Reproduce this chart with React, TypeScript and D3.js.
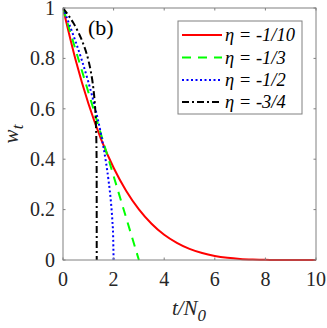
import React from "react";
import * as d3 from "d3";

// values
const tRed = [0, 0.5, 1, 1.5, 2, 2.5, 3, 3.5, 4, 4.5, 5, 5.5, 6, 6.5, 7, 7.5, 8, 9, 10];
const wRed = [1, 0.794, 0.622, 0.481, 0.366, 0.274, 0.201, 0.144, 0.1, 0.068, 0.044, 0.0275, 0.0162, 0.0089, 0.0044, 0.002, 0.0007, 0.00003, 0];

const tGreen = [0, 1, 2, 3];
const wGreen = [1, 0.667, 0.333, 0];

const tBlue = [0, 0.25, 0.5, 0.75, 1, 1.25, 1.5, 1.7, 1.8, 1.9, 1.95, 1.98, 2];
const wBlue = [1, 0.935, 0.866, 0.791, 0.707, 0.612, 0.5, 0.387, 0.316, 0.224, 0.158, 0.1, 0];

const tBlack = [0, 0.2, 0.4, 0.6, 0.8, 1.0, 1.1, 1.2, 1.25, 1.3, 1.32, 1.33, 1.333];
const wBlack = [1, 0.973, 0.942, 0.905, 0.858, 0.794, 0.748, 0.681, 0.63, 0.541, 0.464, 0.368, 0];

const xTicks = [0, 2, 4, 6, 8, 10];
const yTicks = [0, 0.2, 0.4, 0.6, 0.8, 1];
const yTickLabels = ["0", "0.2", "0.4", "0.6", "0.8", "1"];

const series = [
  { label: "-1/10", t: tRed, w: wRed, color: "#ff0000", dash: "none" },
  { label: "-1/3", t: tGreen, w: wGreen, color: "#00ff00", dash: "9,7" },
  { label: "-1/2", t: tBlue, w: wBlue, color: "#0000ff", dash: "2,2.5" },
  { label: "-3/4", t: tBlack, w: wBlack, color: "#000000", dash: "7,3,2,3" },
];

const App = () => {
  const width = 327;
  const height = 328;
  const left = 63, right = 316, top = 8, bottom = 260;

  const x = d3.scaleLinear().domain([0, 10]).range([left, right]);
  const y = d3.scaleLinear().domain([0, 1]).range([bottom, top]);

  const makePath = (t: number[], w: number[]) =>
    d3.line<[number, number]>()
      .x((d) => x(d[0]))
      .y((d) => y(d[1]))
      .curve(d3.curveMonotoneX)(t.map((v, i) => [v, w[i]])) || "";

  const axisColor = "#808080";
  const textColor = "#262626";
  const tickLen = 2.5;
  const fs = 20;

  const legX = 178, legY = 21, legW = 124, legH = 93;
  const rowY = [35, 57.5, 80, 102];

  const txt = { fontFamily: "Liberation Serif" };

  return (
    <svg width={width} height={height} style={{ position: "absolute", left: 0, top: 0, background: "#fff" }}>
      <defs>
        <clipPath id="plot">
          <rect x={left} y={top - 2} width={right - left} height={bottom - top + 3} />
        </clipPath>
      </defs>

      {/* curves */}
      <g clipPath="url(#plot)">
        {series.map((s) => (
          <path key={s.label} d={makePath(s.t, s.w)} fill="none" stroke={s.color}
            strokeWidth={2} strokeDasharray={s.dash} />
        ))}
      </g>

      {/* box */}
      <rect x={left} y={top} width={right - left} height={bottom - top} fill="none" stroke={axisColor} strokeWidth={1} />

      {/* x ticks */}
      {xTicks.map((v) => (
        <g key={"x" + v}>
          <line x1={x(v)} x2={x(v)} y1={bottom} y2={bottom - tickLen} stroke={axisColor} />
          <line x1={x(v)} x2={x(v)} y1={top} y2={top + tickLen} stroke={axisColor} />
          <text style={txt} x={x(v)} y={286} textAnchor="middle" fontSize={fs} fill={textColor}>{v}</text>
        </g>
      ))}

      {/* y ticks */}
      {yTicks.map((v, i) => (
        <g key={"y" + v}>
          <line x1={left} x2={left + tickLen} y1={y(v)} y2={y(v)} stroke={axisColor} />
          <line x1={right} x2={right - tickLen} y1={y(v)} y2={y(v)} stroke={axisColor} />
          <text style={txt} x={55} y={y(v) + 6.8} textAnchor="end" fontSize={fs} fill={textColor}>{yTickLabels[i]}</text>
        </g>
      ))}

      {/* axis labels */}
      <text style={txt} x={189} y={315} textAnchor="middle" fontSize={21} fontStyle="italic" fill={textColor}>
        t/N<tspan fontSize={17} dy={6}>0</tspan>
      </text>
      <text style={txt} transform={`translate(18,${(top + bottom) / 2}) rotate(-90)`} textAnchor="middle" fontSize={21}
        fontStyle="italic" fill={textColor}>
        w<tspan fontSize={17} dy={5}>t</tspan>
      </text>

      {/* panel label */}
      <text style={txt} x={88} y={35} fontSize={22} fill="#000">(b)</text>

      {/* legend */}
      <rect x={legX} y={legY} width={legW} height={legH} fill="#fff" stroke={axisColor} strokeWidth={1} />
      {series.map((s, i) => (
        <g key={"leg" + s.label}>
          <line x1={182} x2={222} y1={rowY[i]} y2={rowY[i]} stroke={s.color} strokeWidth={2}
            strokeDasharray={s.dash} />
          <text style={txt} x={225} y={rowY[i] + 6} fontSize={18.5} fontStyle="italic" fill="#000">
            η = {s.label}
          </text>
        </g>
      ))}
    </svg>
  );
};

export default App;
